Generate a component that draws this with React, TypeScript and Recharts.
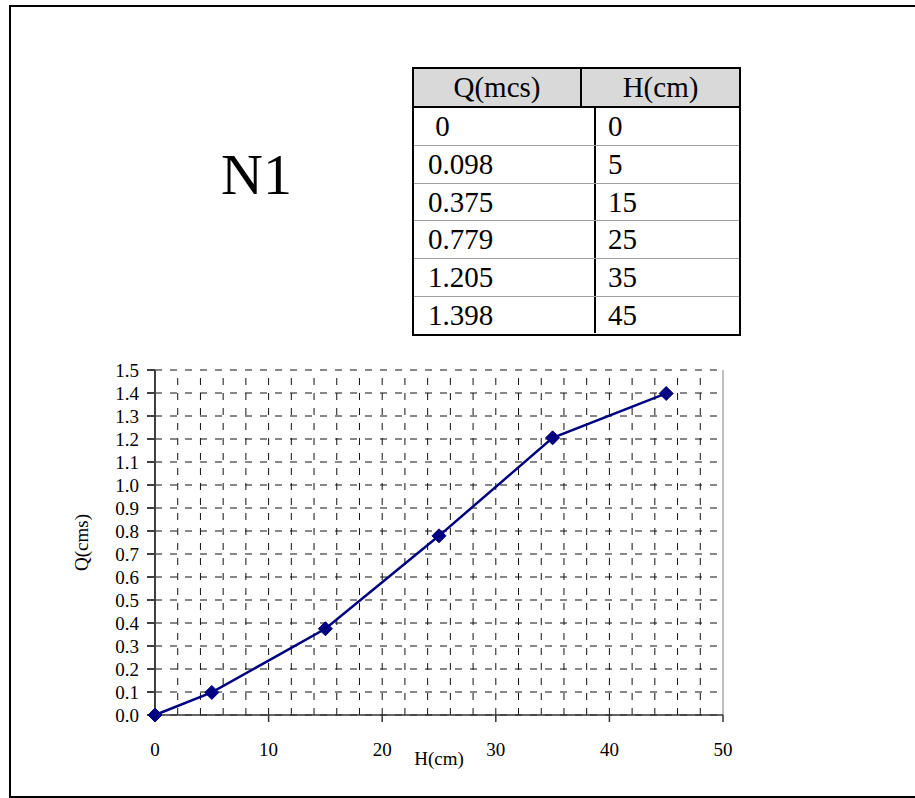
import React from 'react';
import { LineChart, Line, XAxis, YAxis, CartesianGrid, ReferenceLine } from 'recharts';

// readings from the rating table
const hValues = [0, 5, 15, 25, 35, 45];
const qValues = [0, 0.098, 0.375, 0.779, 1.205, 1.398];

const xTicks = [0, 10, 20, 30, 40, 50];
const xGrid = [2, 4, 6, 8, 10, 12, 14, 16, 18, 20, 22, 24, 26, 28, 30, 32, 34, 36, 38, 40, 42, 44, 46, 48];
const yTicks = [0, 0.1, 0.2, 0.3, 0.4, 0.5, 0.6, 0.7, 0.8, 0.9, 1.0, 1.1, 1.2, 1.3, 1.4, 1.5];

const stationName = 'N1';
const tableHeaders = ['Q(mcs)', 'H(cm)'];

const serif = '"Liberation Serif", "Times New Roman", serif';
const navy = '#000080';

const data = hValues.map((h, i) => ({ h, q: qValues[i] }));

const Diamond = (props: any) => {
  const { cx, cy, index } = props;
  if (cx == null || cy == null) return <g key={index} />;
  const r = 7;
  return (
    <path
      key={index}
      d={`M${cx},${cy - r} L${cx + r},${cy} L${cx},${cy + r} L${cx - r},${cy} Z`}
      fill={navy}
      stroke={navy}
    />
  );
};

const YLabel = (props: any) => {
  const vb = props.viewBox || {};
  const x = vb.x - 7;
  const y = vb.y + vb.height / 2;
  return (
    <text
      x={x}
      y={y}
      transform={`rotate(-90, ${x}, ${y})`}
      textAnchor="middle"
      fontFamily={serif}
      fontSize={19}
      fill="#000"
    >
      Q(cms)
    </text>
  );
};

const XLabel = (props: any) => {
  const vb = props.viewBox || {};
  return (
    <text
      x={vb.x + vb.width / 2}
      y={vb.y + 50}
      textAnchor="middle"
      fontFamily={serif}
      fontSize={19}
      fill="#000"
    >
      H(cm)
    </text>
  );
};

const RatingTable: React.FC = () => {
  const cell = (text: string, col: number, header: boolean, h: number) => (
    <div
      style={{
        width: col === 0 ? 166 : undefined,
        flex: col === 0 ? 'none' : 1,
        borderRight: col === 0 ? '2px solid #000' : 'none',
        paddingLeft: header ? 0 : col === 0 ? 14 : 12,
        textAlign: header ? 'center' : 'left',
        whiteSpace: 'pre',
        lineHeight: `${h}px`,
      }}
    >
      {text}
    </div>
  );

  return (
    <div
      style={{
        position: 'absolute',
        left: 412,
        top: 67,
        width: 329,
        height: 269,
        boxSizing: 'border-box',
        border: '2px solid #000',
        display: 'flex',
        flexDirection: 'column',
        fontFamily: serif,
        fontSize: 29,
        color: '#000',
      }}
    >
      <div
        style={{
          height: 37,
          display: 'flex',
          background: '#d9d9d9',
          borderBottom: '2px solid #000',
          flex: 'none',
        }}
      >
        {cell(tableHeaders[0], 0, true, 37)}
        {cell(tableHeaders[1], 1, true, 37)}
      </div>
      {hValues.map((h, i) => (
        <div
          key={h}
          style={{
            height: i === 0 ? 37 : 37.7,
            boxSizing: 'border-box',
            display: 'flex',
            alignItems: 'stretch',
            borderTop: i === 0 ? 'none' : '1.5px solid #a0a0a0',
          }}
        >
          {cell((i === 0 ? ' ' : '') + String(qValues[i]), 0, false, 36)}
          {cell(String(h), 1, false, 36)}
        </div>
      ))}
    </div>
  );
};

const App: React.FC = () => {
  return (
    <div
      style={{
        position: 'absolute',
        left: 0,
        top: 0,
        width: 915,
        height: 798,
        overflow: 'hidden',
        background: '#fff',
      }}
    >
      <div
        style={{
          position: 'absolute',
          left: 9,
          top: 5,
          width: 930,
          height: 793,
          boxSizing: 'border-box',
          borderLeft: '2px solid #000',
          borderTop: '2px solid #000',
          borderBottom: '2px solid #000',
        }}
      />
      <div
        style={{
          position: 'absolute',
          left: 221,
          top: 146,
          fontFamily: serif,
          fontSize: 58,
          lineHeight: 1,
          color: '#000',
        }}
      >
        {stationName}
      </div>
      <RatingTable />
      <div style={{ position: 'absolute', left: 40, top: 340 }}>
        <LineChart
          width={720}
          height={450}
          data={data}
          margin={{ top: 30, right: 37, bottom: 15, left: 55 }}
        >
          <CartesianGrid
            vertical={false}
            stroke="#111"
            strokeDasharray="7 8"
          />
          {xGrid.map((v) => (
            <ReferenceLine key={v} x={v} stroke="#111" strokeDasharray="7 8" />
          ))}
          <ReferenceLine x={50} stroke="#808080" />
          <XAxis
            dataKey="h"
            type="number"
            domain={[0, 50]}
            ticks={xTicks}
            height={60}
            tickSize={7}
            tickMargin={21}
            stroke="#333"
            strokeWidth={1.5}
            tick={{ fill: '#000', fontFamily: serif, fontSize: 19 }}
            label={<XLabel />}
          />
          <YAxis
            type="number"
            domain={[0, 1.5]}
            ticks={yTicks}
            width={60}
            tickSize={8}
            tickMargin={8}
            stroke="#404040"
            strokeWidth={2}
            interval={0}
            tickFormatter={(v: number) => v.toFixed(1)}
            tick={{ fill: '#000', fontFamily: serif, fontSize: 19 }}
            label={<YLabel />}
          />
          <Line
            type="linear"
            dataKey="q"
            stroke={navy}
            strokeWidth={2.5}
            dot={Diamond}
            activeDot={false}
            isAnimationActive={false}
          />
        </LineChart>
      </div>
    </div>
  );
};

export default App;
